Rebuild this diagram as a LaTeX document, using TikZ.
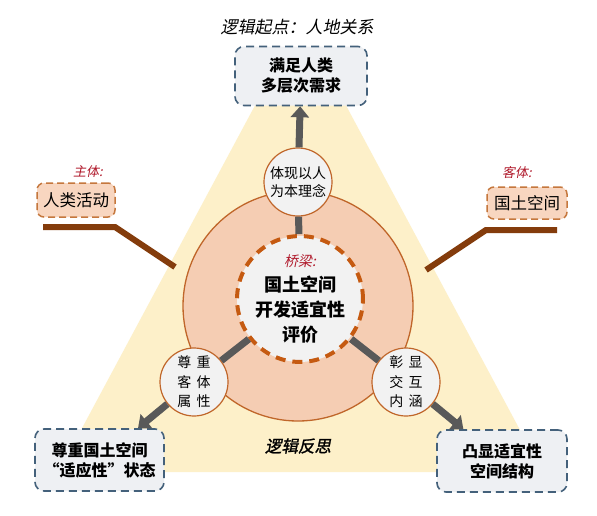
\documentclass[tikz,border=0pt]{standalone}
\usepackage{fontspec}
\setmainfont{Noto Sans CJK SC}
\newfontfamily\cjksl{Noto Sans CJK SC}[FakeSlant=0.2]
\newfontfamily\cjkbsl{Noto Sans CJK SC}[FakeSlant=0.2,FakeBold=1.5]
\newcommand\wgap{\hspace{5.5pt}}
\usetikzlibrary{arrows.meta}
\definecolor{tri}{HTML}{FDF0C9}
\definecolor{bigfill}{HTML}{F5CDB3}
\definecolor{orng}{HTML}{C0662A}
\definecolor{dashor}{HTML}{C55A11}
\definecolor{lightg}{HTML}{F2F2F2}
\definecolor{boxfill}{HTML}{EEF0F3}
\definecolor{boxline}{HTML}{44617B}
\definecolor{peach}{HTML}{F8D6C0}
\definecolor{peachline}{HTML}{C5773D}
\definecolor{brownl}{HTML}{843C0C}
\definecolor{greyl}{HTML}{595959}
\definecolor{labred}{HTML}{B0192B}
\tikzset{
  goalbox/.style={draw=boxline, fill=boxfill, line width=1.6pt, dash pattern=on 8pt off 5pt,
    rounded corners=9pt, align=center, inner sep=0pt, font=\fontsize{16}{20}\selectfont\bfseries},
  sidebox/.style={draw=peachline, fill=peach, line width=1.5pt, dash pattern=on 7pt off 4pt,
    rounded corners=7pt, align=center, inner sep=0pt, font=\fontsize{16.5}{20}\selectfont},
  smallc/.style={circle, draw=orng, fill=lightg, line width=1.2pt, minimum size=68pt, inner sep=0pt,
    align=center, font=\fontsize{14}{18.5}\selectfont},
  widetext/.style={font=\fontsize{14}{19.5}\selectfont},
  redlab/.style={text=labred, font=\fontsize{13}{15}\selectfont\cjksl},
  brownline/.style={draw=brownl, line width=6pt},
  greyline/.style={draw=greyl, line width=7pt},
  greyarrow/.style={greyline, -{Triangle[width=18pt,length=11pt]}},
}
\begin{document}
\begin{tikzpicture}[x=1pt,y=-1pt]
\useasboundingbox[fill=white] (0,0) rectangle (597,515);
% triangle (its top is hidden under the top box)
\coordinate (ta1) at (274,70);
\coordinate (ta2) at (327,70);
\coordinate (tl) at (58.5,472);
\coordinate (tr) at (542.5,472);
\fill[tri] (ta1) -- (tl) -- (tr) -- (ta2) -- cycle;
% brown lines
\coordinate (l1) at (43,227);
\coordinate (l2) at (115,227);
\coordinate (l3) at (175,267);
\coordinate (r1) at (557,230);
\coordinate (r2) at (486,230);
\coordinate (r3) at (426,270);
\draw[brownline] (l1) -- (l2) -- (l3);
\draw[brownline] (r1) -- (r2) -- (r3);
% big circle
\node[circle, draw=orng, fill=bigfill, line width=1.3pt, minimum size=230pt] (big) at (298,306) {};
% inner dashed circle
\node[circle, draw=dashor, fill=lightg, line width=4pt, dash pattern=on 10pt off 7pt,
  minimum size=124pt, inner sep=0pt, align=center, font=\fontsize{18}{25}\selectfont\bfseries]
  (mid) at (300,299)
  {{\fontsize{14}{18}\selectfont\mdseries\cjksl\color{labred}桥梁:}\\国土空间\\开发适宜性\\评价};
% small circles
\node[smallc] (topc) at (298,182) {体现以人\\为本理念};
\node[smallc, widetext] (llc) at (194,382) {尊\wgap 重\\客\wgap 体\\属\wgap 性};
\node[smallc, widetext] (lrc) at (406,382) {彰\wgap 显\\交\wgap 互\\内\wgap 涵};
% boxes
\node[goalbox, minimum width=132pt, minimum height=59pt] (topbox) at (301,76) {满足人类\\多层次需求};
\node[goalbox, minimum width=129pt, minimum height=62pt] (blbox) at (99.5,460) {尊重国土空间\\“适应性”状态};
\node[goalbox, minimum width=130pt, minimum height=62pt] (brbox) at (502,461) {凸显适宜性\\空间结构};
\node[sidebox, minimum width=78pt, minimum height=34pt] (lbox) at (76,200) {人类活动};
\node[sidebox, minimum width=80pt, minimum height=32pt] (rbox) at (527,203) {国土空间};
% connectors
\draw[greyline] (mid) -- (topc);
\draw[greyline] (mid) -- (llc);
\draw[greyline] (mid) -- (lrc);
\draw[greyarrow] (topc) -- (topbox);
\draw[greyarrow] (llc) -- (blbox);
\draw[greyarrow] (lrc) -- (brbox);
% labels
\node[font=\fontsize{17}{19}\selectfont\cjksl] (title) at (297,27) {逻辑起点：人地关系};
\node[redlab] (zt) at (88,172) {主体:};
\node[redlab] (kt) at (517,172) {客体:};
\node[font=\fontsize{16.5}{18}\selectfont\cjkbsl] (fs) at (298,446) {逻辑反思};
\end{tikzpicture}
\end{document}
